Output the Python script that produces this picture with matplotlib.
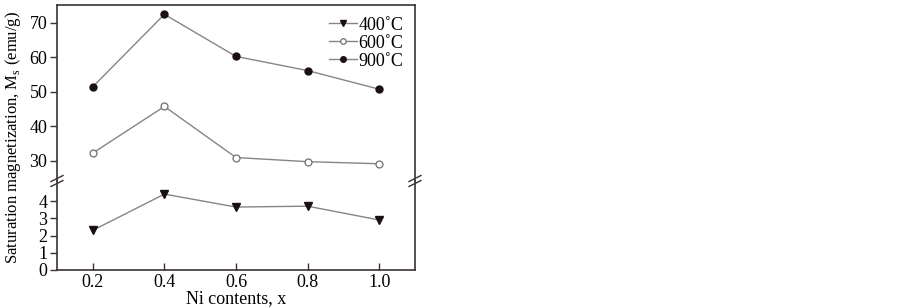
import matplotlib.pyplot as plt

# Ni content and saturation magnetization (emu/g) at three annealing temperatures
ni_x = [0.2, 0.4, 0.6, 0.8, 1.0]
ms_400 = [2.3, 4.4, 3.65, 3.7, 2.9]
ms_600 = [32.3, 45.8, 31.0, 29.8, 29.2]
ms_900 = [51.5, 72.5, 60.3, 56.2, 50.8]

fs = 13
plt.rcParams['font.family'] = ['Liberation Serif', 'DejaVu Serif']
plt.rcParams['font.size'] = fs
plt.rcParams['mathtext.fontset'] = 'custom'
plt.rcParams['mathtext.rm'] = 'Liberation Serif'

spine_c = '#3a3232'
line_c = '#858585'

fig = plt.figure(figsize=(9, 3.07), dpi=100)
left, width = 57 / 900, 358 / 900
y_top, y_mid, y_bot = 1 - 5 / 307, 1 - 181 / 307, 1 - 270 / 307
ax_hi = fig.add_axes([left, y_mid, width, y_top - y_mid])
ax_lo = fig.add_axes([left, y_bot, width, y_mid - y_bot], sharex=ax_hi)

# upper part: 600 and 900 C
ax_hi.plot(ni_x, ms_900, color=line_c, lw=1, marker='o', ms=5,
           mfc='#1a1010', mec='#1a1010', label='900˚C', zorder=3)
ax_hi.plot(ni_x, ms_600, color=line_c, lw=1, marker='o', ms=5,
           mfc='white', mec='#707070', mew=0.9, label='600˚C', zorder=3)
# lower part: 400 C
ax_lo.plot(ni_x, ms_400, color=line_c, lw=1, marker='v', ms=5.5,
           mfc='#1a1010', mec='#1a1010', label='400˚C', zorder=3)

ax_hi.set_ylim(24.2, 75.2)
ax_hi.set_yticks([30, 40, 50, 60, 70])
ax_lo.set_ylim(0, 5.16)
ax_lo.set_yticks([0, 1, 2, 3, 4])
ax_lo.set_xlim(0.1, 1.1)
ax_lo.set_xticks(ni_x)
ax_lo.set_xticklabels(['0.2', '0.4', '0.6', '0.8', '1.0'])

for ax in (ax_hi, ax_lo):
    for s in ax.spines.values():
        s.set_color(spine_c)
        s.set_linewidth(1.2)
    ax.tick_params(axis='y', direction='out', length=5, width=1, color=spine_c, pad=2)
    ax.tick_params(axis='x', direction='in', length=5, width=1, color=spine_c, pad=3)
ax_hi.spines['bottom'].set_visible(False)
ax_lo.spines['top'].set_visible(False)
ax_hi.tick_params(axis='x', bottom=False, labelbottom=False)

# break marks on both vertical spines
for xb in (0, 1):
    for dy in (-2.5, 2.5):
        fig.lines.append(plt.Line2D(
            [left + width * xb - 6 / 900, left + width * xb + 6 / 900],
            [y_mid + (dy - 3) / 307, y_mid + (dy + 3) / 307],
            transform=fig.transFigure, color=spine_c, lw=1))

# legend
h_hi, l_hi = ax_hi.get_legend_handles_labels()
h_lo, l_lo = ax_lo.get_legend_handles_labels()
ax_hi.legend(h_lo + h_hi[::-1], l_lo + l_hi[::-1], loc='upper right',
             frameon=False, handlelength=1.6, handletextpad=0.05,
             labelspacing=0.05, borderaxespad=0.25, markerscale=0.8,
             fontsize=fs)

fig.text(0.014, (y_top + y_bot) / 2, 'Saturation magnetization, M$_\\mathrm{s}$ (emu/g)',
         rotation=90, va='center', ha='center', fontsize=12)
fig.text(left + width / 2, 1 - 299 / 307, 'Ni contents, x', ha='center', va='center',
         fontsize=fs)

fig.savefig('out.png', dpi=100)
